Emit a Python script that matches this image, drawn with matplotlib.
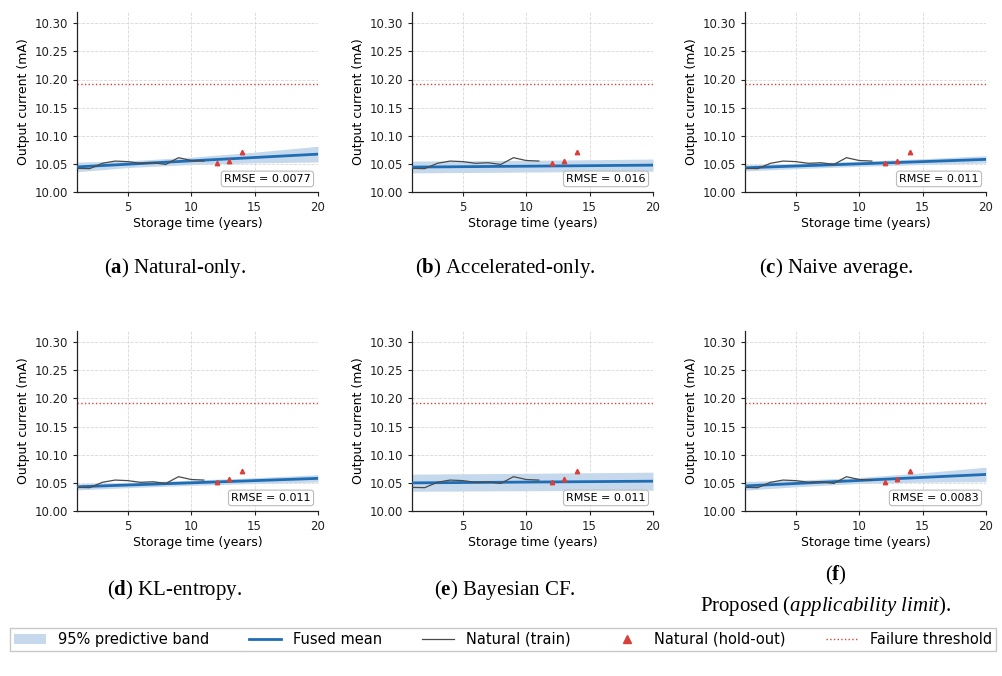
import numpy as np
import matplotlib.pyplot as plt
from matplotlib.patches import Patch
from matplotlib.lines import Line2D

# natural storage data (years, mA)
train_years = [1, 2, 3, 4, 5, 6, 7, 8, 9, 10, 11]
train_current = [10.042, 10.0415, 10.051, 10.055, 10.054, 10.051, 10.052, 10.049, 10.061, 10.056, 10.055]
holdout_years = [12, 13, 14]
holdout_current = [10.051, 10.056, 10.071]
threshold = 10.192

# fused prediction for each method, read at these years
grid_years = [1, 5, 10, 15, 20]
mean_a = [10.0446, 10.0494, 10.0554, 10.0613, 10.0673]
low_a = [10.0360, 10.0434, 10.0489, 10.0518, 10.0533]
high_a = [10.0531, 10.0554, 10.0619, 10.0708, 10.0813]
mean_b = [10.0443, 10.0450, 10.0459, 10.0468, 10.0478]
low_b = [10.0340, 10.0346, 10.0354, 10.0362, 10.0370]
high_b = [10.0550, 10.0556, 10.0564, 10.0574, 10.0586]
mean_c = [10.0430, 10.0462, 10.0501, 10.0540, 10.0580]
low_c = [10.0375, 10.0414, 10.0455, 10.0488, 10.0515]
high_c = [10.0485, 10.0510, 10.0547, 10.0592, 10.0645]
mean_d = [10.0430, 10.0462, 10.0501, 10.0540, 10.0580]
low_d = [10.0375, 10.0414, 10.0455, 10.0488, 10.0515]
high_d = [10.0485, 10.0510, 10.0547, 10.0592, 10.0645]
mean_e = [10.0500, 10.0506, 10.0514, 10.0522, 10.0530]
low_e = [10.0350, 10.0355, 10.0360, 10.0365, 10.0370]
high_e = [10.0655, 10.0662, 10.0670, 10.0680, 10.0690]
mean_f = [10.0446, 10.0489, 10.0543, 10.0597, 10.0650]
low_f = [10.0370, 10.0430, 10.0490, 10.0512, 10.0520]
high_f = [10.0525, 10.0548, 10.0596, 10.0680, 10.0778]

rmse = ["0.0077", "0.016", "0.011", "0.011", "0.011", "0.0083"]
letters = ["a", "b", "c", "d", "e", "f"]
captions = ["Natural-only.", "Accelerated-only.", "Naive average.",
            "KL-entropy.", "Bayesian CF.", ""]

means = [mean_a, mean_b, mean_c, mean_d, mean_e, mean_f]
lows = [low_a, low_b, low_c, low_d, low_e, low_f]
highs = [high_a, high_b, high_c, high_d, high_e, high_f]

BLUE = "#1f6db5"
BAND = "#c6d9ec"
RED = "#d9403a"

plt.rcParams["font.family"] = "DejaVu Sans"
plt.rcParams["mathtext.fontset"] = "custom"
plt.rcParams["mathtext.rm"] = "Liberation Serif"
plt.rcParams["mathtext.bf"] = "Liberation Serif:bold"
plt.rcParams["mathtext.it"] = "Liberation Serif:italic"

fig = plt.figure(figsize=(10.03, 6.76), dpi=100)

W, H = 1003, 676
lefts = [77, 412, 745]
tops = [12, 331]
aw, ah = 241, 180

cap_x = [175, 505, 836]
cap_y = [268, 590]
serif = dict(fontsize=15, family="Liberation Serif", ha="center", va="center")

for i in range(6):
    r, c = divmod(i, 3)
    ax = fig.add_axes([lefts[c] / W, 1 - (tops[r] + ah) / H, aw / W, ah / H])
    ax.fill_between(grid_years, lows[i], highs[i], color=BAND, lw=0, zorder=1)
    ax.plot(grid_years, means[i], color=BLUE, lw=2, zorder=3)
    ax.plot(train_years, train_current, color="#4a4a4a", lw=0.9, zorder=4)
    ax.plot(holdout_years, holdout_current, ls="none", marker="^", ms=3.2,
            color=RED, zorder=5)
    ax.axhline(threshold, color=RED, ls=":", lw=1.0, zorder=2)
    ax.set_xlim(1, 20)
    ax.set_ylim(10.0, 10.32)
    ax.set_xticks([5, 10, 15, 20])
    ax.set_yticks([10.00, 10.05, 10.10, 10.15, 10.20, 10.25, 10.30])
    ax.yaxis.set_major_formatter(plt.FormatStrFormatter("%.2f"))
    ax.tick_params(labelsize=8.5, length=3, width=0.8, colors="#222222")
    ax.grid(True, ls="--", lw=0.6, color="#d8d8d8", zorder=0)
    ax.set_axisbelow(True)
    for s in ["top", "right"]:
        ax.spines[s].set_visible(False)
    for s in ["left", "bottom"]:
        ax.spines[s].set_linewidth(0.9)
        ax.spines[s].set_color("#222222")
    ax.set_xlabel("Storage time (years)", fontsize=9, labelpad=2)
    ax.set_ylabel("Output current (mA)", fontsize=9, labelpad=3)
    ax.text(0.97, 0.045, "RMSE = " + rmse[i], transform=ax.transAxes,
            ha="right", va="bottom", fontsize=8, zorder=6,
            bbox=dict(boxstyle="round,pad=0.25", fc="white", ec="#bbbbbb", lw=0.8))

    # sub-figure caption
    if letters[i] != "f":
        fig.text(cap_x[c] / W, 1 - cap_y[r] / H,
                 r"($\mathbf{" + letters[i] + r"}$) " + captions[i], **serif)
    else:
        fig.text(cap_x[c] / W, 1 - 575 / H, r"($\mathbf{f}$)", **serif)
        fig.text(826 / W, 1 - 606 / H,
                 r"Proposed ($\mathit{applicability\ limit}$).", **serif)

handles = [
    Patch(facecolor=BAND, edgecolor="none", label="95% predictive band"),
    Line2D([], [], color=BLUE, lw=2, label="Fused mean"),
    Line2D([], [], color="#4a4a4a", lw=0.9, label="Natural (train)"),
    Line2D([], [], ls="none", marker="^", ms=6, color=RED, label="Natural (hold-out)"),
    Line2D([], [], color=RED, ls=":", lw=1.0, label="Failure threshold"),
]
fig.legend(handles=handles, loc="center", ncol=5, mode="expand",
           bbox_to_anchor=(10 / W, 1 - 654 / H, 986 / W, 29 / H),
           fontsize=10.5, frameon=True, fancybox=False, edgecolor="#bbbbbb",
           borderaxespad=0, handlelength=2.2, columnspacing=1.0, borderpad=0.3)

fig.savefig("out.png", dpi=100)
